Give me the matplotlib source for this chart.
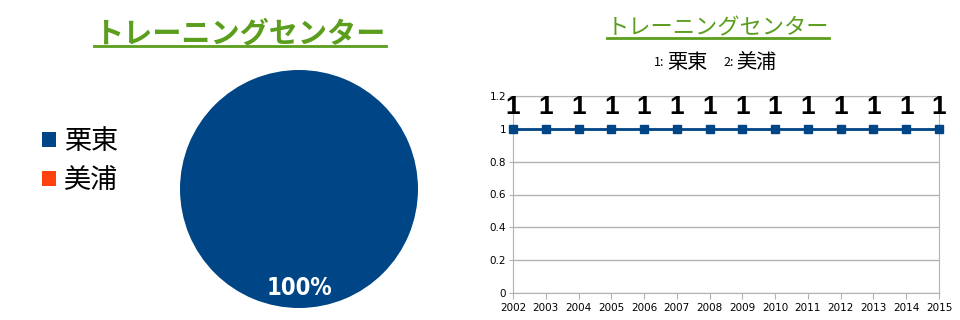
import matplotlib
matplotlib.use("Agg")
import matplotlib.pyplot as plt
from matplotlib.lines import Line2D

plt.rcParams['font.family'] = ['Noto Sans CJK JP', 'DejaVu Sans']

title = "トレーニングセンター"
centers = ["栗東", "美浦"]
center_totals = [14, 0]
years = [str(y) for y in range(2002, 2016)]
ritto_values = [1, 1, 1, 1, 1, 1, 1, 1, 1, 1, 1, 1, 1, 1]
y_ticks = [0, 0.2, 0.4, 0.6, 0.8, 1, 1.2]
y_tick_labels = ["0", "0.2", "0.4", "0.6", "0.8", "1", "1.2"]

blue = "#004586"
orange = "#ff420e"
green = "#5b9e1e"
grey = "#b3b3b3"

fig = plt.figure(figsize=(9.6, 3.2), dpi=100)

# --- left: pie ---
ax1 = fig.add_axes([180 / 960, 12 / 320, 238 / 960, 238 / 320])
wedges, _, autotexts = ax1.pie(
    center_totals, colors=[blue, orange], startangle=90, counterclock=False,
    autopct=lambda p: f"{p:.0f}%" if p > 0 else "", pctdistance=0.83,
    textprops=dict(color="white", fontsize=17, fontweight="bold",
                   family="DejaVu Sans", fontstretch="condensed"))
ax1.set_xlim(-1, 1)
ax1.set_ylim(-1, 1)
ax1.set_aspect("equal")

leg = fig.legend(wedges, centers, loc="center left", bbox_to_anchor=(18 / 960, 159 / 320),
                 frameon=False, fontsize=19.5, handlelength=0.5, handleheight=0.5,
                 handletextpad=0.3, labelspacing=0.45)

t1 = fig.text(240 / 960, 287 / 320, title, ha="center", va="center",
              fontsize=21, fontweight="bold", color=green)

# --- right: line chart ---
ax2 = fig.add_axes([513 / 960, 27 / 320, 426 / 960, 197 / 320])
x = list(range(len(years)))
ax2.plot(x, ritto_values, color=blue, lw=2, marker="s", ms=6, clip_on=False, zorder=3)
for xi, v in zip(x, ritto_values):
    ax2.annotate(str(v), (xi, v), xytext=(0, 16), textcoords="offset points",
                 ha="center", va="center", fontsize=19, fontweight="bold",
                 family=["Liberation Sans", "DejaVu Sans"], color="black",
                 annotation_clip=False)
ax2.set_xlim(0, len(years) - 1)
ax2.set_ylim(0, 1.2)
ax2.set_xticks(x)
ax2.set_xticklabels(years, fontsize=7.5, family="DejaVu Sans")
ax2.set_yticks(y_ticks)
ax2.set_yticklabels(y_tick_labels, fontsize=7.5, family="DejaVu Sans")
ax2.yaxis.grid(True, color=grey, lw=1)
ax2.set_axisbelow(True)
for s in ax2.spines.values():
    s.set_color(grey)
ax2.tick_params(axis="x", length=4, color=grey, pad=3)
ax2.tick_params(axis="y", length=3, color=grey, pad=2)

t2 = fig.text(718 / 960, 292 / 320, title, ha="center", va="center",
              fontsize=16, color=green)

# subtitle: 1: 栗東   2: 美浦
sub_y = 258 / 320
fig.text(654 / 960, sub_y, "1:", fontsize=9, va="center", ha="left")
fig.text(667 / 960, sub_y, centers[0], fontsize=14.5, va="center", ha="left")
fig.text(723 / 960, sub_y, "2:", fontsize=9, va="center", ha="left")
fig.text(736 / 960, sub_y, centers[1], fontsize=14.5, va="center", ha="left")

# underline the titles
fig.canvas.draw()
for t in (t1, t2):
    bb = t.get_window_extent().transformed(fig.transFigure.inverted())
    fig.add_artist(Line2D([bb.x0, bb.x1], [bb.y0 + 2 / 320, bb.y0 + 2 / 320],
                          color=green, lw=2, transform=fig.transFigure))

fig.savefig("out.png", dpi=100)
